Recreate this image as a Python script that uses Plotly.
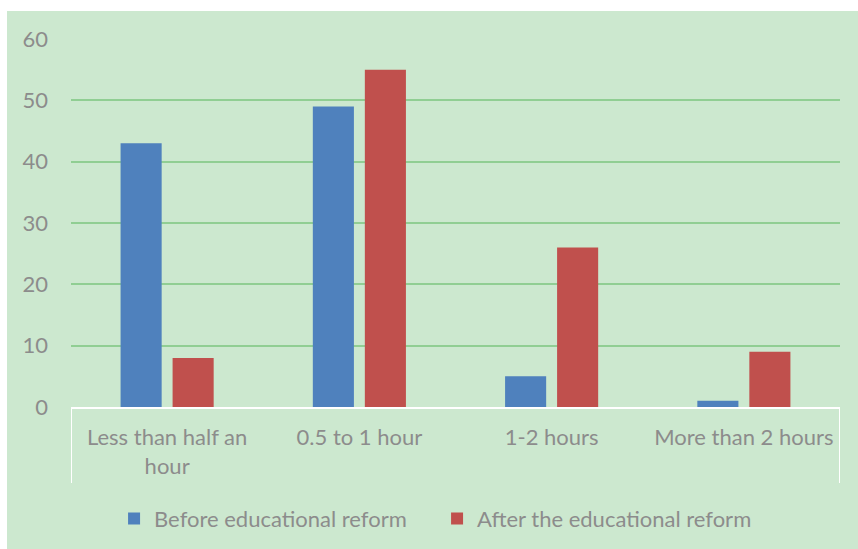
import plotly.graph_objects as go

categories = ["Less than half an<br>hour", "0.5 to 1 hour", "1-2 hours", "More than 2 hours"]
before_reform = [43, 49, 5, 1]
after_reform = [8, 55, 26, 9]
y_ticks = [0, 10, 20, 30, 40, 50, 60]

BLUE = "#4F81BD"
RED = "#C0504D"
BG = "#CCE8CF"
GRID = "#90CE93"
TEXT = "#8C8C8C"
FONT = "Lato, Open Sans, sans-serif"
FS = 22

fig = go.Figure()
fig.add_trace(go.Bar(name="Before educational reform", x=categories, y=before_reform,
                     marker=dict(color=BLUE, line=dict(width=0))))
fig.add_trace(go.Bar(name="After the educational reform", x=categories, y=after_reform,
                     marker=dict(color=RED, line=dict(width=0))))

# light green chart panel inset from the top/left edges of the page
fig.add_shape(type="rect", xref="paper", yref="paper",
              x0=-0.0832, x1=1.03, y0=-0.40, y1=1.0761,
              fillcolor=BG, line=dict(width=0), layer="below")
# white separators at both ends of the category axis
for xv in (-0.5, 3.5):
    fig.add_shape(type="line", xref="x", yref="paper", x0=xv, x1=xv, y0=0, y1=-0.2065,
                  line=dict(color="white", width=2))

fig.update_layout(
    width=858, height=549,
    margin=dict(l=71, r=18, t=39, b=142),
    paper_bgcolor="white",
    plot_bgcolor="rgba(0,0,0,0)",
    barmode="group",
    bargap=0.459,
    bargroupgap=0.21,
    font=dict(family=FONT, size=FS, color=TEXT),
    showlegend=True,
    legend=dict(orientation="h", x=0.056, xanchor="left", yref="container",
                y=0.055, yanchor="middle",
                bgcolor="rgba(0,0,0,0)", font=dict(size=FS, color=TEXT),
                itemwidth=30, entrywidth=278, entrywidthmode="pixels",
                traceorder="normal"),
)
fig.update_xaxes(
    showgrid=False, showline=True, linecolor="white", linewidth=2,
    ticks="", tickfont=dict(size=FS, color=TEXT), ticklabelstandoff=10,
    range=[-0.5, 3.5], fixedrange=True,
)
fig.update_yaxes(
    range=[0, 60], tickvals=y_ticks, showgrid=True, gridcolor=GRID, gridwidth=1.5,
    zeroline=False, showline=False, ticks="", tickfont=dict(size=FS, color=TEXT),
    ticklabelstandoff=22,
)

fig.write_html("out.html")
